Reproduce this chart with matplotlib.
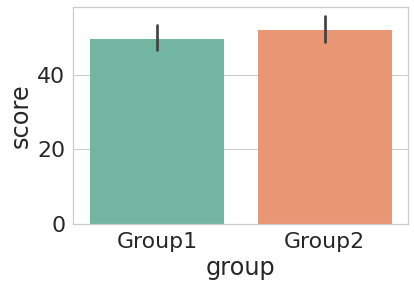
import colorsys
import matplotlib
matplotlib.use("Agg")
import matplotlib.pyplot as plt
import numpy as np

groups = ["Group1", "Group2"]
means = [49.5, 52.0]
ci_low = [46.5, 48.7]
ci_high = [53.2, 55.6]

base_colors = ["#66c2a5", "#fc8d62"]  # Set2


def desaturate(hexcol, prop=0.75):
    rgb = matplotlib.colors.to_rgb(hexcol)
    h, l, s = colorsys.rgb_to_hls(*rgb)
    return colorsys.hls_to_rgb(h, l, s * prop)


colors = [desaturate(c) for c in base_colors]

plt.rcParams["font.family"] = ["DejaVu Sans"]
W, H = 414, 289
fig = plt.figure(figsize=(W / 72, H / 72), dpi=72)
ax = fig.add_axes([73.3 / W, (H - 224) / H, 335 / W, 216.7 / H])

x = np.arange(len(groups))
ax.bar(x, means, width=0.8, color=colors, zorder=2)
for xi, lo, hi in zip(x, ci_low, ci_high):
    ax.plot([xi, xi], [lo, hi], color="#424242", lw=2.7, solid_capstyle="round", zorder=3)

ax.set_xlim(-0.5, 1.5)
ax.set_ylim(0, 58.05)
ax.set_yticks([0, 20, 40])
ax.set_xticks(x)
ax.set_xticklabels(groups)
ax.set_xlabel("group", fontsize=24, color="#262626")
ax.set_ylabel("score", fontsize=24, color="#262626")
ax.tick_params(axis="both", labelsize=22, colors="#262626", length=0, pad=8)
ax.grid(axis="y", color="#cccccc", lw=1, zorder=0)
ax.set_axisbelow(True)
for s in ax.spines.values():
    s.set_color("#cccccc")
    s.set_linewidth(1.25)

fig.savefig("out.png", dpi=72)
